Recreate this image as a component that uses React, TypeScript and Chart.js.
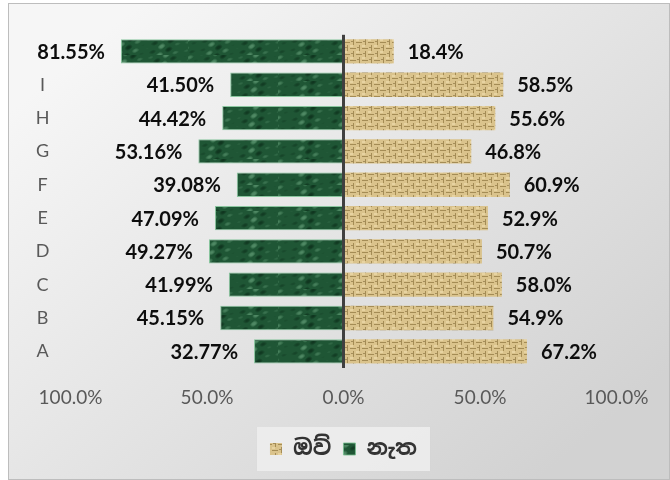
import React, { useEffect, useRef } from 'react';
import { Chart, registerables } from 'chart.js';

Chart.register(...registerables);

// ---- data ----
const categories = ['', 'I', 'H', 'G', 'F', 'E', 'D', 'C', 'B', 'A'];
const yesValues = [18.4, 58.5, 55.6, 46.8, 60.9, 52.9, 50.7, 58.0, 54.9, 67.2];
const noValues = [81.55, 41.5, 44.42, 53.16, 39.08, 47.09, 49.27, 41.99, 45.15, 32.77];
const seriesNames = ['ඔව්', 'නැත'];
const axisMin = -100;
const axisMax = 100;
const axisStep = 50;

const W = 662;
const H = 477;

function makeGreenPattern(): CanvasPattern | string {
  const c = document.createElement('canvas');
  c.width = 90;
  c.height = 26;
  const g = c.getContext('2d');
  if (!g) return '#1e5634';
  g.fillStyle = '#1f5635';
  g.fillRect(0, 0, c.width, c.height);
  for (let y = 0; y < c.height; y++) {
    for (let x = 0; x < c.width; x++) {
      const v =
        Math.sin(x * 0.21 + y * 0.43) * Math.cos(x * 0.09 - y * 0.33) +
        0.55 * Math.sin(x * 0.47 + y * 0.11 + 1.3);
      if (v > 0.55) {
        g.fillStyle = `rgba(110,170,130,${Math.min(0.6, (v - 0.55) * 0.7)})`;
        g.fillRect(x, y, 1, 1);
      } else if (v < -0.55) {
        g.fillStyle = `rgba(6,34,18,${Math.min(0.6, (-v - 0.55) * 0.7)})`;
        g.fillRect(x, y, 1, 1);
      }
    }
  }
  return g.createPattern(c, 'repeat') || '#1e5634';
}

function makeBeigePattern(): CanvasPattern | string {
  const c = document.createElement('canvas');
  c.width = 12;
  c.height = 12;
  const g = c.getContext('2d');
  if (!g) return '#d8c08a';
  g.fillStyle = '#dac38c';
  g.fillRect(0, 0, 12, 12);
  g.fillStyle = 'rgba(120,95,40,0.55)';
  g.fillRect(0, 3, 6, 1);
  g.fillRect(6, 9, 6, 1);
  g.fillRect(3, 6, 1, 6);
  g.fillRect(9, 0, 1, 6);
  g.fillStyle = 'rgba(100,78,30,0.45)';
  g.fillRect(1, 8, 2, 1);
  g.fillRect(7, 2, 2, 1);
  g.fillStyle = 'rgba(240,222,175,0.6)';
  g.fillRect(0, 0, 3, 2);
  g.fillRect(6, 6, 3, 2);
  return g.createPattern(c, 'repeat') || '#d8c08a';
}

const backgroundPlugin = {
  id: 'bgPlugin',
  beforeDraw(chart: any) {
    const ctx = chart.ctx as CanvasRenderingContext2D;
    const w = chart.width;
    const h = chart.height;
    ctx.save();
    const grad = ctx.createLinearGradient(w * 0.2, 0, w * 0.8, h);
    grad.addColorStop(0, '#f6f6f6');
    grad.addColorStop(0.5, '#e4e4e4');
    grad.addColorStop(1, '#d2d2d2');
    ctx.fillStyle = grad;
    ctx.fillRect(0, 0, w, h);
    ctx.strokeStyle = '#bdbdbd';
    ctx.lineWidth = 1;
    ctx.strokeRect(0.5, 0.5, w - 1, h - 1);

    const legend = chart.legend;
    if (legend && legend.legendHitBoxes && legend.legendHitBoxes.length) {
      const boxes = legend.legendHitBoxes;
      let l = Infinity, r = -Infinity, t = Infinity, b = -Infinity;
      boxes.forEach((bx: any) => {
        l = Math.min(l, bx.left);
        r = Math.max(r, bx.left + bx.width);
        t = Math.min(t, bx.top);
        b = Math.max(b, bx.top + bx.height);
      });
      const cy = (t + b) / 2;
      ctx.fillStyle = 'rgba(238,238,238,0.85)';
      ctx.fillRect(l - 13, cy - 22, r - l + 26, 44);
    }
    ctx.restore();
  },
};

const labelPlugin = {
  id: 'valueLabels',
  afterDatasetsDraw(chart: any) {
    const ctx = chart.ctx as CanvasRenderingContext2D;
    ctx.save();
    ctx.font = 'bold 20px Lato, "Open Sans", sans-serif';
    ctx.fillStyle = '#0d0d0d';
    ctx.textBaseline = 'middle';
    chart.data.datasets.forEach((ds: any, di: number) => {
      const meta = chart.getDatasetMeta(di);
      meta.data.forEach((el: any, i: number) => {
        const v = ds.data[i] as number;
        if (v < 0) {
          ctx.textAlign = 'right';
          ctx.fillText(Math.abs(v).toFixed(2) + '%', el.x - 16, el.y + 1);
        } else {
          ctx.textAlign = 'left';
          ctx.fillText(v.toFixed(1) + '%', el.x + 14, el.y + 1);
        }
      });
    });
    const x0 = chart.scales.x.getPixelForValue(0);
    const area = chart.chartArea;
    ctx.fillStyle = '#404040';
    ctx.fillRect(x0 - 1.5, area.top, 3, area.bottom - area.top);
    ctx.restore();
  },
};

export default function App() {
  const ref = useRef<HTMLCanvasElement | null>(null);

  useEffect(() => {
    if (!ref.current) return;
    const green = makeGreenPattern();
    const beige = makeBeigePattern();
    const chart = new Chart(ref.current, {
      type: 'bar',
      data: {
        labels: categories,
        datasets: [
          {
            label: seriesNames[0],
            data: yesValues,
            backgroundColor: beige as any,
            borderWidth: 0,
            barPercentage: 1,
            categoryPercentage: 0.73,
          },
          {
            label: seriesNames[1],
            data: noValues.map((v) => -v),
            backgroundColor: green as any,
            borderColor: 'rgba(120,190,145,0.85)',
            borderWidth: 1,
            barPercentage: 1,
            categoryPercentage: 0.73,
          },
        ],
      },
      options: {
        indexAxis: 'y',
        responsive: false,
        animation: false,
        layout: { padding: { left: 0, right: 53.5, top: 25, bottom: 10 } },
        scales: {
          x: {
            stacked: true,
            min: axisMin,
            max: axisMax,
            grid: { display: false, drawTicks: false },
            border: { display: false },
            ticks: {
              stepSize: axisStep,
              padding: 18,
              color: '#595959',
              font: { family: 'Lato, "Open Sans", sans-serif', size: 19 },
              maxRotation: 0,
              autoSkip: false,
              callback: (v: any) => Math.abs(Number(v)).toFixed(1) + '%',
            },
            afterFit: (s: any) => {
              s.height = 58;
            },
          },
          y: {
            stacked: true,
            grid: { display: false, drawTicks: false },
            border: { display: false },
            ticks: {
              padding: 21,
              crossAlign: 'center',
              color: '#595959',
              font: { family: 'Lato, "Open Sans", sans-serif', size: 18 },
              autoSkip: false,
            },
            afterFit: (s: any) => {
              s.width = 62.5;
            },
          },
        },
        plugins: {
          legend: {
            position: 'bottom',
            fullSize: false,
            labels: {
              boxWidth: 12,
              boxHeight: 12,
              padding: 12,
              color: '#333333',
              font: { family: '"Noto Sans Sinhala", Lato, sans-serif', size: 22, weight: 'bold' },
            },
          },
          tooltip: { enabled: false },
        },
      },
      plugins: [backgroundPlugin, labelPlugin],
    } as any);
    return () => chart.destroy();
  }, []);

  return (
    <div style={{ position: 'absolute', left: 8, top: 3, width: W, height: H }}>
      <canvas ref={ref} width={W} height={H} style={{ display: 'block' }} />
    </div>
  );
}
